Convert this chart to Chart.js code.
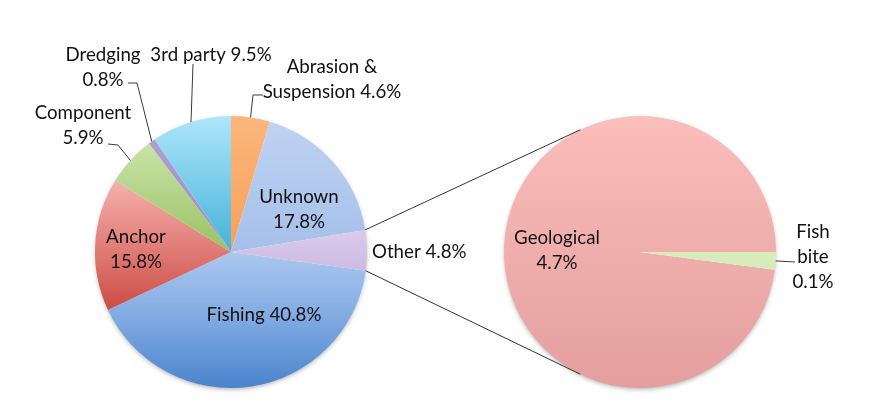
<!DOCTYPE html>
<html>
<head>
<meta charset="utf-8">
<script src="https://cdn.jsdelivr.net/npm/chart.js@4.4.1/dist/chart.umd.min.js"></script>
<style>
  html, body { margin: 0; padding: 0; background: #fff; }
  #wrap { position: relative; width: 874px; height: 418px; }
  #wrap canvas { position: absolute; left: 0; top: 0; }
</style>
</head>
<body>
<div id="wrap">
  <canvas id="mainPie" width="874" height="418"></canvas>
  <canvas id="subPie" width="874" height="418"></canvas>
</div>
<script>
// --- data ---
const mainCategories = ['Abrasion & Suspension', 'Unknown', 'Other', 'Fishing', 'Anchor', 'Component', 'Dredging', '3rd party'];
const mainValues = [4.6, 17.8, 4.8, 40.8, 15.8, 5.9, 0.8, 9.5];
const subCategories = ['Geological', 'Fish bite'];
const subValues = [4.7, 0.1];

// label text, {v} is replaced with the value
const mainLabelText = [['Abrasion &', 'Suspension {v}'], ['Unknown', '{v}'], ['Other {v}'], ['Fishing {v}'],
                       ['Anchor', '{v}'], ['Component', '{v}'], ['Dredging', '{v}'], ['3rd party {v}']];
const subLabelText = [['Geological', '{v}'], ['Fish', 'bite', '{v}']];

// --- styles ---
const labelFont = '18.7px Lato';
const textColor = '#111111';
const lineGap = 25;

// gradient stops per slice (vertical, over the whole pie)
const mainGradients = [
    [[0, '#FBB67C'], [0.5, '#F7A05A']],
    [[0, '#C0D4F3'], [0.6, '#A0BBE7']],
    [[0.4, '#DCCDEC'], [0.6, '#CAB7E1']],
    [[0.48, '#AECAF1'], [0.75, '#7FA9E1'], [1, '#4A84CD']],
    [[0.25, '#F4AEAA'], [0.72, '#CC4B45']],
    [[0.1, '#C9E3A8'], [0.5, '#98C262']],
    [[0, '#B3A2D6'], [0.5, '#9D8AC6']],
    [[0, '#AEE6FA'], [0.5, '#44B2D9']]
];
const subGradients = [
    [[0, '#FABEBB'], [1, '#E49E9D']],
    [[0, '#E2F1CB'], [1, '#CFE6AB']]
];

// label placement (x, y of first line), optional leader [start x, y, elbow x, y]
const mainLabelLayout = [
    { x: 332, y: 67, leader: [263, 95, 253, 95] },
    { x: 299, y: 197 },
    { x: 372, y: 252, align: 'left' },
    { x: 264, y: 315 },
    { x: 136, y: 237 },
    { x: 83, y: 113, leader: [108, 144, 118, 145] },
    { x: 103, y: 55, leader: [128, 83, 137, 83] },
    { x: 211, y: 55, leader: [193, 64, 193, 64] }
];
const subLabelLayout = [
    { x: 557, y: 238 },
    { x: 813, y: 232, leader: [795, 262, 795, 262] }
];

function gradientFill(gradients) {
    return function(context) {
        const chart = context.chart;
        const area = chart.chartArea;
        const stops = gradients[context.dataIndex];
        if (!area) return stops[0][1];
        const g = chart.ctx.createLinearGradient(0, area.top, 0, area.bottom);
        stops.forEach(s => g.addColorStop(s[0], s[1]));
        return g;
    };
}

function fmt(v) { return v.toFixed(1) + '%'; }

// soft shadow under the pie
const shadowPlugin = {
    id: 'pieShadow',
    beforeDatasetsDraw(chart) {
        const arc = chart.getDatasetMeta(0).data[0];
        if (!arc) return;
        const ctx = chart.ctx;
        ctx.save();
        ctx.shadowColor = 'rgba(0,0,0,0.35)';
        ctx.shadowBlur = 5;
        ctx.shadowOffsetY = 2;
        ctx.fillStyle = '#ffffff';
        ctx.beginPath();
        ctx.arc(arc.x, arc.y, arc.outerRadius - 1, 0, Math.PI * 2);
        ctx.fill();
        ctx.restore();
    }
};

function labelPlugin(layout, texts, values) {
    return {
        id: 'sliceLabels',
        afterDatasetsDraw(chart) {
            const ctx = chart.ctx;
            const arcs = chart.getDatasetMeta(0).data;
            ctx.save();
            ctx.font = labelFont;
            ctx.fillStyle = textColor;
            ctx.strokeStyle = '#3a3a3a';
            ctx.lineWidth = 1;
            ctx.textBaseline = 'middle';
            layout.forEach((l, i) => {
                ctx.textAlign = l.align || 'center';
                texts[i].forEach((t, k) => {
                    ctx.fillText(t.replace('{v}', fmt(values[i])), l.x, l.y + k * lineGap);
                });
                if (l.leader) {
                    const a = arcs[i];
                    const mid = (a.startAngle + a.endAngle) / 2;
                    const ex = a.x + Math.cos(mid) * a.outerRadius;
                    const ey = a.y + Math.sin(mid) * a.outerRadius;
                    ctx.beginPath();
                    ctx.moveTo(l.leader[0], l.leader[1]);
                    ctx.lineTo(l.leader[2], l.leader[3]);
                    ctx.lineTo(ex, ey);
                    ctx.stroke();
                }
            });
            ctx.restore();
        }
    };
}

const baseOptions = (padding) => ({
    responsive: false,
    animation: false,
    layout: { padding: padding },
    plugins: { legend: { display: false }, tooltip: { enabled: false } },
    events: []
});

// --- main pie ---
const mainChart = new Chart(document.getElementById('mainPie'), {
    type: 'pie',
    data: {
        labels: mainCategories,
        datasets: [{
            data: mainValues,
            backgroundColor: gradientFill(mainGradients),
            borderWidth: 0,
            hoverOffset: 0,
            offset: 0
        }]
    },
    options: Object.assign(baseOptions({ left: 95, right: 507, top: 116, bottom: 30 }), { rotation: 0 }),
    plugins: [shadowPlugin, labelPlugin(mainLabelLayout, mainLabelText, mainValues)]
});

// --- connector lines from "Other" slice to the secondary pie ---
const otherIndex = mainCategories.indexOf('Other');
const connectorSpread = 64 * Math.PI / 180;
const connectorPlugin = {
    id: 'connectors',
    afterDraw(chart) {
        const o = mainChart.getDatasetMeta(0).data[otherIndex];
        const s = chart.getDatasetMeta(0).data[0];
        if (!o || !s) return;
        const ctx = chart.ctx;
        ctx.save();
        ctx.strokeStyle = '#333';
        ctx.lineWidth = 1;
        ctx.beginPath();
        ctx.moveTo(o.x + Math.cos(o.startAngle) * o.outerRadius, o.y + Math.sin(o.startAngle) * o.outerRadius);
        ctx.lineTo(s.x + Math.cos(Math.PI + connectorSpread) * s.outerRadius, s.y + Math.sin(Math.PI + connectorSpread) * s.outerRadius);
        ctx.moveTo(o.x + Math.cos(o.endAngle) * o.outerRadius, o.y + Math.sin(o.endAngle) * o.outerRadius);
        ctx.lineTo(s.x + Math.cos(Math.PI - connectorSpread) * s.outerRadius, s.y + Math.sin(Math.PI - connectorSpread) * s.outerRadius);
        ctx.stroke();
        ctx.restore();
    }
};

// --- secondary pie (breakdown of "Other") ---
const subTotal = subValues.reduce((a, b) => a + b, 0);
const fishShare = subValues[1] / subTotal;
new Chart(document.getElementById('subPie'), {
    type: 'pie',
    data: {
        labels: subCategories,
        datasets: [{
            data: subValues,
            backgroundColor: gradientFill(subGradients),
            borderWidth: 0,
            hoverOffset: 0,
            offset: 0
        }]
    },
    options: Object.assign(baseOptions({ left: 504, right: 98, top: 116, bottom: 30 }), { rotation: 90 + fishShare * 360 }),
    plugins: [shadowPlugin, labelPlugin(subLabelLayout, subLabelText, subValues), connectorPlugin]
});
</script>
</body>
</html>
